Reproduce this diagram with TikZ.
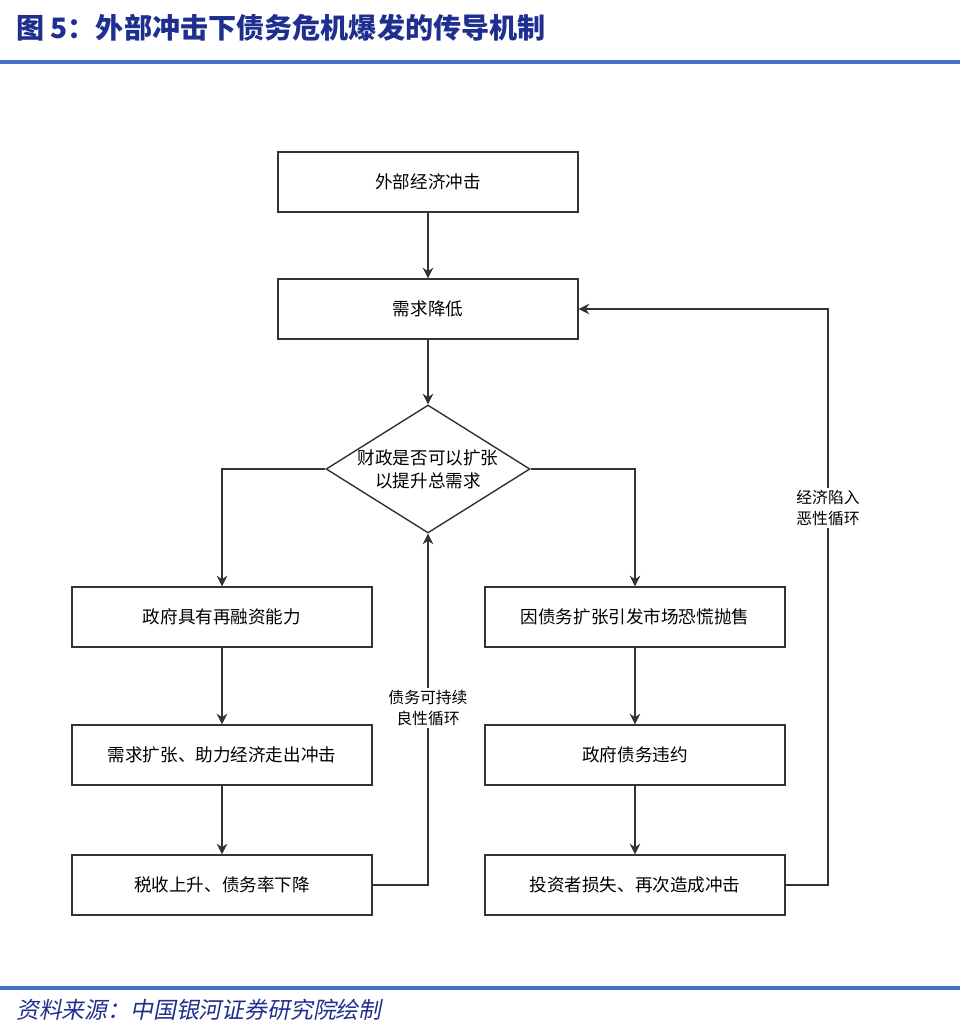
\documentclass[tikz,border=0pt]{standalone}
\usepackage{fontspec}
\setmainfont{Noto Sans CJK SC}
\newfontfamily\cjkslant[FakeSlant=0.2]{Noto Sans CJK SC}
\usetikzlibrary{arrows.meta,shapes.geometric}
\definecolor{titleblue}{HTML}{1F2F8F}
\definecolor{lineblue}{HTML}{4472C4}
\tikzset{
  box/.style={draw=black!80, line width=0.8pt, minimum width=6cm, minimum height=1.2cm, font=\fontsize{10}{12}\selectfont},
  flow/.style={draw=black!80, line width=0.8pt, -{Stealth[length=6pt,width=6pt]}},
  note/.style={fill=white, align=center, inner sep=1pt, font=\fontsize{9}{12}\selectfont}
}
\begin{document}
\begin{tikzpicture}[x=0.02cm,y=-0.02cm]
\useasboundingbox (0,0) rectangle (960,1031);
% title and rules
\node[anchor=west, text=titleblue, font=\fontsize{16}{18}\selectfont\bfseries] (title) at (10,28) {图 5：外部冲击下债务危机爆发的传导机制};
\draw[lineblue, line width=2pt] (0,62) -- (960,62);
\draw[lineblue, line width=2pt] (0,988) -- (960,988);
\node[anchor=west, text=titleblue, font=\fontsize{13}{15}\selectfont\cjkslant] (src) at (10,1010) {资料来源：中国银河证券研究院绘制};
% main column
\node[box] (shock) at (428,182) {外部经济冲击};
\node[box] (demand) at (428,309) {需求降低};
\node[draw=black!80, line width=0.8pt, diamond, aspect=1.6, minimum width=4.08cm, minimum height=2.56cm, inner sep=0pt, align=center, font=\fontsize{10}{13}\selectfont] (fiscal) at (428,469) {财政是否可以扩张\\以提升总需求};
% left branch
\node[box] (refin) at (222,617) {政府具有再融资能力};
\node[box] (expand) at (222,755) {需求扩张、助力经济走出冲击};
\node[box] (tax) at (222,885) {税收上升、债务率下降};
% right branch
\node[box] (panic) at (635,617) {因债务扩张引发市场恐慌抛售};
\node[box] (default) at (635,755) {政府债务违约};
\node[box] (loss) at (635,885) {投资者损失、再次造成冲击};
\coordinate (loopR) at (828,885);
\coordinate (loopL) at (428,885);
% arrows
\draw[flow] (shock) -- (demand);
\draw[flow] (demand) -- (fiscal);
\draw[flow] (fiscal.west) -| (refin.north);
\draw[flow] (fiscal.east) -| (panic.north);
\draw[flow] (refin) -- (expand);
\draw[flow] (expand) -- (tax);
\draw[flow] (panic) -- (default);
\draw[flow] (default) -- (loss);
\draw[flow] (tax.east) -- (loopL) -- (fiscal.south);
\draw[flow] (loss.east) -- (loopR) |- (demand.east);
\node[note] (good) at (428,708) {债务可持续\\良性循环};
\node[note] (bad) at (828,508) {经济陷入\\恶性循环};
\end{tikzpicture}
\end{document}
